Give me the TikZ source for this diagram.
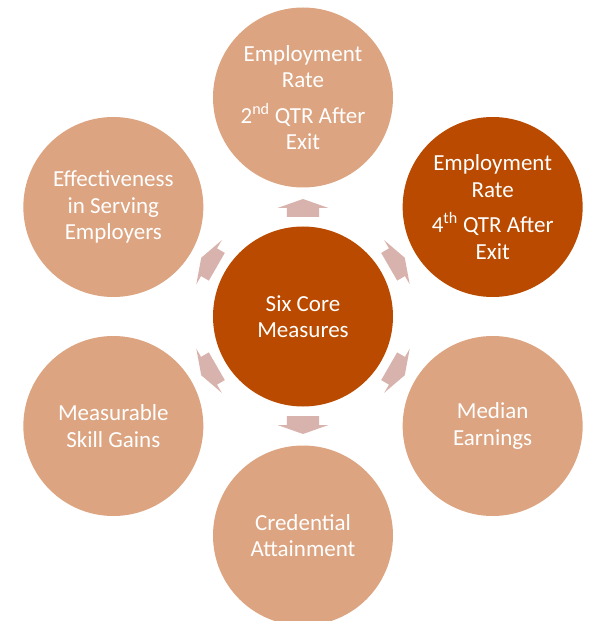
\documentclass[tikz,border=0pt]{standalone}
\usepackage{fontspec}
\setmainfont{Carlito}
\usetikzlibrary{positioning}

\definecolor{measurefill}{RGB}{220,164,128}
\definecolor{corefill}{RGB}{185,74,0}
\definecolor{spokefill}{RGB}{216,179,173}

\begin{document}
\begin{tikzpicture}[
    measure/.style={circle, fill=measurefill, minimum size=180pt, inner sep=0pt, align=center, text=white, font=\fontsize{23}{26.5}\selectfont},
    core/.style={measure, fill=corefill},
    spoke/.style={fill=spokefill}
]
\useasboundingbox (-303pt,316.5pt) rectangle (287pt,-304.5pt);

% Centre
\node[core] (six) at (0,0) {Six Core\\Measures};

% Outer measures, one every 60 degrees
\node[measure] (emp2) at (90:219pt) {Employment\\Rate\\[9pt]2\textsuperscript{nd} QTR After\\Exit};
\node[core] (emp4) at (30:219pt) {Employment\\Rate\\[9pt]4\textsuperscript{th} QTR After\\Exit};
\node[measure] (earn) at (-30:219pt) {Median\\Earnings};
\node[measure] (cred) at (-90:219pt) {Credential\\Attainment};
\node[measure] (skill) at (-150:219pt) {Measurable\\Skill Gains};
\node[measure] (empl) at (150:219pt) {Effectiveness\\in Serving\\Employers};

% Block arrows pointing outwards, halfway between the circles
\foreach \a in {90,30,-30,-90,-150,150}
  \fill[spoke, rotate=\a] (99.5pt,-16pt) -- (108.5pt,-16pt) -- (108.5pt,-25.5pt)
    -- (117.5pt,0pt) -- (108.5pt,25.5pt) -- (108.5pt,16pt) -- (99.5pt,16pt) -- cycle;
\end{tikzpicture}
\end{document}
